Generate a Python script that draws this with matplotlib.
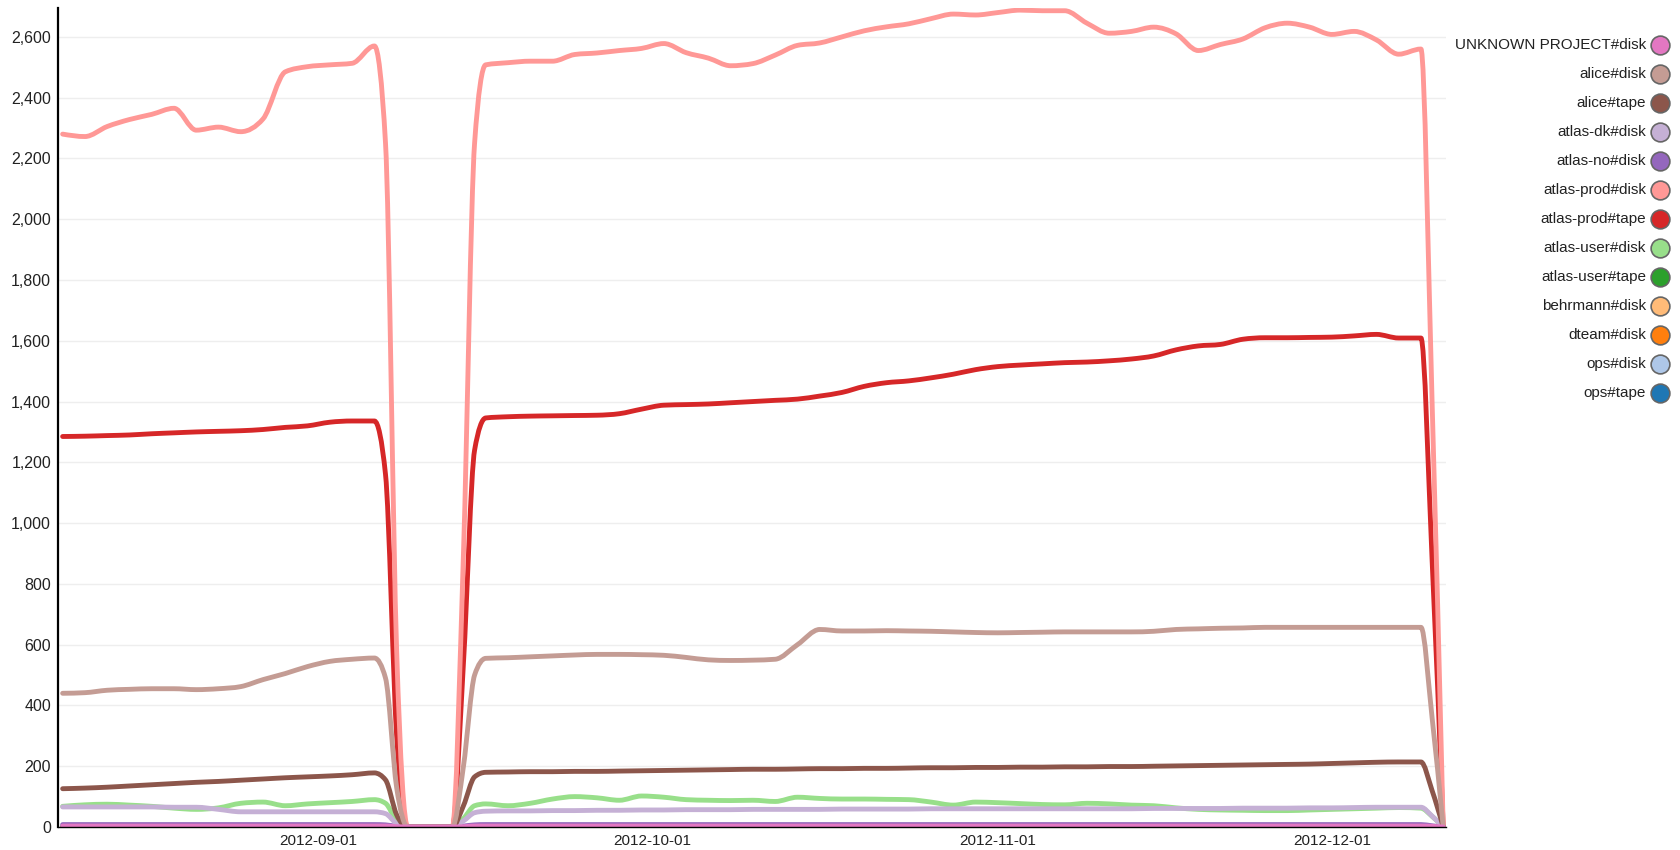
import numpy as np
import pandas as pd
import matplotlib
matplotlib.use("Agg")
import matplotlib.pyplot as plt
import matplotlib.dates as mdates
from matplotlib.lines import Line2D
from matplotlib.path import Path
from matplotlib.patches import PathPatch
from matplotlib.ticker import FuncFormatter

plt.rcParams['font.family'] = ['Liberation Sans', 'DejaVu Sans']

# one point every 2 days from 2012-08-09 to 2012-12-11, plus a few extra days
# around the outage and the end of the period (68 points)
dates = pd.date_range("2012-08-09", periods=63, freq="2D").union(
    pd.to_datetime(["2012-09-07", "2012-09-09", "2012-09-13", "2012-09-15", "2012-12-10"]))

names = ["UNKNOWN PROJECT#disk", "alice#disk", "alice#tape", "atlas-dk#disk",
         "atlas-no#disk", "atlas-prod#disk", "atlas-prod#tape", "atlas-user#disk",
         "atlas-user#tape", "behrmann#disk", "dteam#disk", "ops#disk", "ops#tape"]
colors = ["#e377c2", "#c49c94", "#8c564b", "#c5b0d5", "#9467bd", "#ff9896", "#d62728",
          "#98df8a", "#2ca02c", "#ffbb78", "#ff7f0e", "#aec7e8", "#1f77b4"]

# rows: Aug 9-27 | Aug 29-Sep 16 (daily round the gap) | Sep 18-Oct 6 | Oct 8-26
#       | Oct 28-Nov 15 | Nov 17-Dec 5 | Dec 7, 9, 10, 11
unknown_disk = [3, 3, 3, 3, 3, 3, 3, 3, 3, 3,
                3, 3, 3, 3, 3, 3, 1, 0, 0, 0, 0, 1, 3, 3,
                3, 3, 3, 3, 3, 3, 3, 3, 3, 3,
                3, 3, 3, 3, 3, 3, 3, 3, 3, 3,
                3, 3, 3, 3, 3, 3, 3, 3, 3, 3,
                3, 3, 3, 3, 3, 3, 3, 3, 3, 3,
                3, 3, 2, 0]
alice_disk = [440, 442, 450, 453, 455, 455, 452, 455, 462, 485,
              505, 528, 545, 552, 556, 490, 130, 0, 0, 0, 0, 200, 500, 555,
              557, 560, 563, 566, 568, 568, 567, 565, 558, 550,
              548, 549, 552, 600, 650, 645, 645, 646, 645, 644,
              642, 640, 639, 640, 641, 642, 642, 642, 642, 644,
              650, 652, 654, 655, 657, 657, 657, 657, 657, 657,
              657, 657, 360, 0]
alice_tape = [126, 128, 131, 135, 139, 143, 147, 150, 154, 158,
              162, 165, 168, 172, 178, 155, 40, 0, 0, 0, 0, 70, 165, 180,
              181, 182, 182, 183, 183, 184, 185, 186, 187, 188,
              189, 190, 190, 191, 192, 192, 193, 193, 194, 195,
              195, 196, 196, 197, 197, 198, 198, 199, 199, 200,
              201, 202, 203, 204, 205, 206, 207, 209, 211, 213,
              214, 214, 120, 0]
atlas_dk_disk = [66, 66, 66, 66, 66, 65, 65, 58, 50, 50,
                 50, 50, 50, 50, 50, 44, 11, 0, 0, 0, 0, 20, 47, 52,
                 53, 53, 54, 54, 55, 55, 56, 56, 57, 57,
                 57, 58, 58, 58, 58, 59, 59, 59, 59, 60,
                 60, 60, 60, 60, 60, 60, 60, 60, 60, 61,
                 61, 61, 61, 62, 62, 62, 63, 63, 64, 65,
                 65, 65, 36, 0]
atlas_no_disk = [8, 8, 8, 8, 8, 8, 8, 8, 8, 8,
                 8, 8, 8, 8, 8, 7, 2, 0, 0, 0, 0, 3, 7, 8,
                 8, 8, 8, 8, 8, 8, 8, 8, 8, 8,
                 8, 8, 8, 8, 8, 8, 8, 8, 8, 8,
                 8, 8, 8, 8, 8, 8, 8, 8, 8, 8,
                 8, 8, 8, 8, 8, 8, 8, 8, 8, 8,
                 8, 8, 4, 0]
atlas_prod_disk = [2280, 2272, 2305, 2328, 2345, 2365, 2293, 2303, 2288, 2330,
                   2485, 2502, 2508, 2513, 2570, 2250, 580, 0, 0, 0, 0, 900, 2250, 2508,
                   2515, 2520, 2520, 2542, 2547, 2555, 2562, 2578, 2548, 2530,
                   2505, 2512, 2540, 2572, 2580, 2600, 2620, 2633, 2643, 2660,
                   2675, 2672, 2680, 2688, 2686, 2686, 2645, 2612, 2618, 2632,
                   2610, 2555, 2575, 2593, 2630, 2645, 2632, 2608, 2618, 2590,
                   2543, 2560, 1400, 0]
atlas_prod_tape = [1285, 1286, 1288, 1290, 1294, 1297, 1300, 1302, 1304, 1308,
                   1315, 1320, 1332, 1336, 1336, 1160, 300, 0, 0, 0, 0, 540, 1240, 1346,
                   1350, 1352, 1353, 1354, 1355, 1360, 1375, 1388, 1390, 1392,
                   1396, 1400, 1404, 1408, 1418, 1430, 1450, 1462, 1468, 1478,
                   1490, 1505, 1515, 1520, 1524, 1528, 1530, 1534, 1540, 1550,
                   1570, 1583, 1588, 1605, 1610, 1610, 1611, 1612, 1616, 1621,
                   1609, 1609, 880, 0]
atlas_user_disk = [68, 73, 75, 72, 68, 62, 58, 63, 78, 82,
                   70, 76, 80, 84, 90, 78, 20, 0, 0, 0, 0, 28, 70, 76,
                   70, 78, 92, 100, 96, 88, 102, 98, 90, 88,
                   87, 88, 84, 98, 94, 92, 92, 91, 90, 82,
                   72, 82, 80, 77, 74, 73, 78, 76, 72, 70,
                   63, 58, 56, 55, 54, 54, 56, 58, 60, 62,
                   64, 62, 35, 0]
# the remaining series stay at (almost) zero for the whole period
atlas_user_tape = [1, 1, 1, 1, 1, 1, 1, 1, 1, 1,
                   1, 1, 1, 1, 1, 1, 0, 0, 0, 0, 0, 0, 1, 1,
                   1, 1, 1, 1, 1, 1, 1, 1, 1, 1,
                   1, 1, 1, 1, 1, 1, 1, 1, 1, 1,
                   1, 1, 1, 1, 1, 1, 1, 1, 1, 1,
                   1, 1, 1, 1, 1, 1, 1, 1, 1, 1,
                   1, 1, 1, 0]
behrmann_disk = [0, 0, 0, 0, 0, 0, 0, 0, 0, 0,
                 0, 0, 0, 0, 0, 0, 0, 0, 0, 0, 0, 0, 0, 0,
                 0, 0, 0, 0, 0, 0, 0, 0, 0, 0,
                 0, 0, 0, 0, 0, 0, 0, 0, 0, 0,
                 0, 0, 0, 0, 0, 0, 0, 0, 0, 0,
                 0, 0, 0, 0, 0, 0, 0, 0, 0, 0,
                 0, 0, 0, 0]
dteam_disk = [0, 0, 0, 0, 0, 0, 0, 0, 0, 0,
              0, 0, 0, 0, 0, 0, 0, 0, 0, 0, 0, 0, 0, 0,
              0, 0, 0, 0, 0, 0, 0, 0, 0, 0,
              0, 0, 0, 0, 0, 0, 0, 0, 0, 0,
              0, 0, 0, 0, 0, 0, 0, 0, 0, 0,
              0, 0, 0, 0, 0, 0, 0, 0, 0, 0,
              0, 0, 0, 0]
ops_disk = [0, 0, 0, 0, 0, 0, 0, 0, 0, 0,
            0, 0, 0, 0, 0, 0, 0, 0, 0, 0, 0, 0, 0, 0,
            0, 0, 0, 0, 0, 0, 0, 0, 0, 0,
            0, 0, 0, 0, 0, 0, 0, 0, 0, 0,
            0, 0, 0, 0, 0, 0, 0, 0, 0, 0,
            0, 0, 0, 0, 0, 0, 0, 0, 0, 0,
            0, 0, 0, 0]
ops_tape = [0, 0, 0, 0, 0, 0, 0, 0, 0, 0,
            0, 0, 0, 0, 0, 0, 0, 0, 0, 0, 0, 0, 0, 0,
            0, 0, 0, 0, 0, 0, 0, 0, 0, 0,
            0, 0, 0, 0, 0, 0, 0, 0, 0, 0,
            0, 0, 0, 0, 0, 0, 0, 0, 0, 0,
            0, 0, 0, 0, 0, 0, 0, 0, 0, 0,
            0, 0, 0, 0]

series = [unknown_disk, alice_disk, alice_tape, atlas_dk_disk, atlas_no_disk,
          atlas_prod_disk, atlas_prod_tape, atlas_user_disk, atlas_user_tape,
          behrmann_disk, dteam_disk, ops_disk, ops_tape]

yticks = list(range(0, 2601, 200))
xticks = pd.to_datetime(["2012-09-01", "2012-10-01", "2012-11-01", "2012-12-01"])


def monotone_path(x, y):
    """Cubic bezier path through the points, monotone in x (like d3 curveMonotoneX)."""
    x = np.asarray(x, float)
    y = np.asarray(y, float)
    h = np.diff(x)
    s = np.diff(y) / h
    n = len(x)
    t = np.zeros(n)
    for i in range(1, n - 1):
        p = (s[i - 1] * h[i] + s[i] * h[i - 1]) / (h[i - 1] + h[i])
        t[i] = (np.sign(s[i - 1]) + np.sign(s[i])) * min(abs(s[i - 1]), abs(s[i]), 0.5 * abs(p))
    t[0] = (3 * s[0] - t[1]) / 2
    t[-1] = (3 * s[-1] - t[-2]) / 2
    verts = [(x[0], y[0])]
    codes = [Path.MOVETO]
    for i in range(n - 1):
        d = h[i] / 3
        verts += [(x[i] + d, y[i] + d * t[i]), (x[i + 1] - d, y[i + 1] - d * t[i + 1]),
                  (x[i + 1], y[i + 1])]
        codes += [Path.CURVE4] * 3
    return Path(verts, codes)


fig = plt.figure(figsize=(16.8, 8.5), dpi=100)
ax = fig.add_axes([58 / 1680, 23 / 850, (1446 - 58) / 1680, (827 - 8) / 850])

xnum = mdates.date2num(dates)
# drawn in reverse so the first legend entry ends on top
for vals, name, col in reversed(list(zip(series, names, colors))):
    ax.add_patch(PathPatch(monotone_path(xnum, vals), facecolor="none", edgecolor=col,
                           lw=3.5, capstyle="round", joinstyle="round"))

ax.set_xlim(mdates.date2num(pd.Timestamp("2012-08-08 14:00")),
            mdates.date2num(pd.Timestamp("2012-12-11 06:00")))
ax.set_ylim(0, 2695)
ax.set_yticks(yticks)
ax.yaxis.set_major_formatter(FuncFormatter(lambda v, p: f"{int(v):,}"))
ax.set_xticks(mdates.date2num(xticks))
ax.xaxis.set_major_formatter(mdates.DateFormatter("%Y-%m-%d"))
ax.grid(axis="y", color="#eeeeee", lw=1)
ax.set_axisbelow(True)

for s in ["top", "right"]:
    ax.spines[s].set_visible(False)
ax.spines["left"].set_linewidth(1.6)
ax.spines["bottom"].set_linewidth(1.0)
ax.tick_params(axis="y", length=0, pad=5, labelsize=11.5, labelcolor="#222222")
ax.tick_params(axis="x", length=0, pad=5, labelsize=11, labelcolor="#222222")

# legend on the right: label then coloured circle
for i, (name, col) in enumerate(zip(names, colors)):
    y = 1 - (45 + 29 * i) / 850
    fig.text(1646 / 1680, y, name, ha="right", va="center", fontsize=11, color="#222222")
    fig.add_artist(Line2D([1660 / 1680], [y], marker="o", markersize=13.5,
                          markerfacecolor=col, markeredgecolor="#666666",
                          markeredgewidth=1.2, transform=fig.transFigure))

plt.savefig("out.png", dpi=100)
